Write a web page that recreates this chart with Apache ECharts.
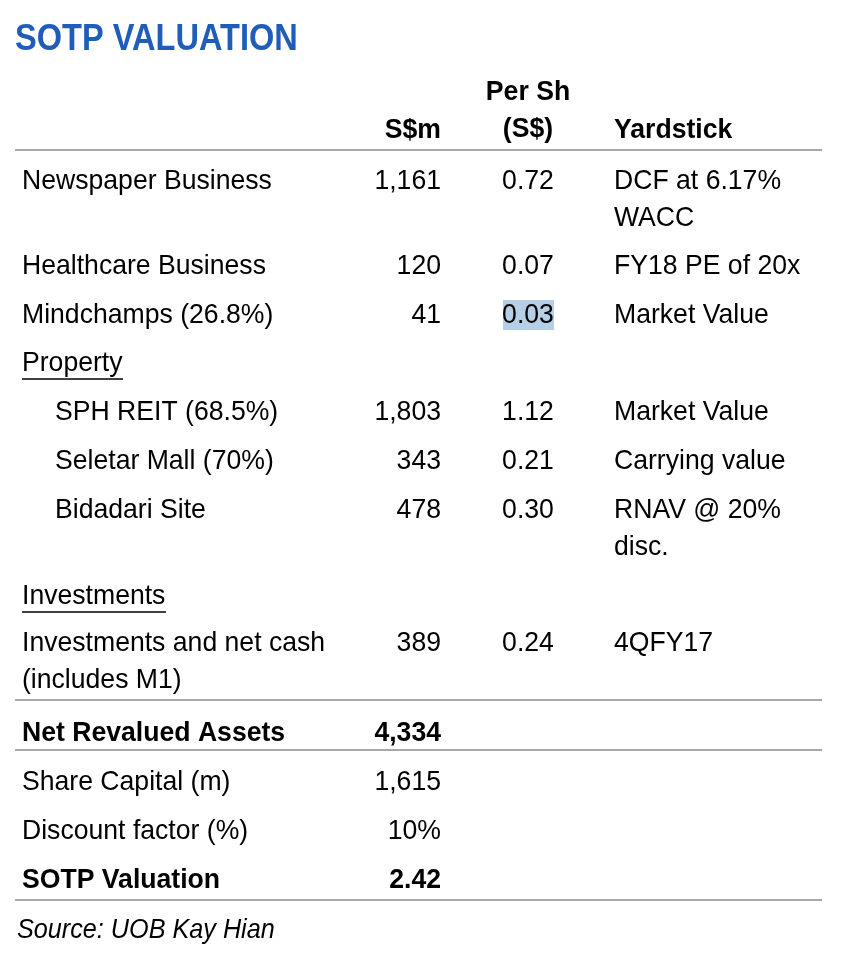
<!DOCTYPE html>
<html><head><meta charset="utf-8">
<script src="https://cdn.jsdelivr.net/npm/echarts@6/dist/echarts.min.js"></script>
<style>html,body{margin:0;padding:0;background:#fff}#c{width:852px;height:960px}</style>
</head><body><div id="c"></div>
<script>
const title = 'SOTP VALUATION';
const headers = ['S$m', 'Per Sh\n(S$)', 'Yardstick'];
const labels = ['Newspaper Business','Healthcare Business','Mindchamps (26.8%)','Property','SPH REIT (68.5%)','Seletar Mall (70%)','Bidadari Site','Investments','Investments and net cash\n(includes M1)','Net Revalued Assets','Share Capital (m)','Discount factor (%)','SOTP Valuation'];
const smValues = ['1,161','120','41','','1,803','343','478','','389','4,334','1,615','10%','2.42'];
const perShare = ['0.72','0.07','0.03','','1.12','0.21','0.30','','0.24','','','',''];
const yardstick = ['DCF at 6.17%\nWACC','FY18 PE of 20x','Market Value','','Market Value','Carrying value','RNAV @ 20%\ndisc.','','4QFY17','','','',''];
const rowY = [181,266,315,363,412,461,510,596,643,733,782,831,880];
const boldRows = [9,12];
const underlineRows = [3,7];
const indentRows = [4,5,6];
const highlight = [2];
const source = 'Source: UOB Kay Hian';
const lines = [150,700,750,900];

const F = '"Liberation Sans Narrow","Arial Narrow","Liberation Sans",sans-serif';
const fs = 28, lh = 37;
const g = [];
function txt(x,y,s,align,opt){
  opt=opt||{};
  g.push({type:'text',x:x,y:y,z:10,scaleX:opt.sx||0.95,originX:0,originY:0,style:{text:s,fill:opt.fill||'#000',font:(opt.italic?'italic ':'')+(opt.bold?'bold ':'')+(opt.size||fs)+'px '+F,textAlign:align,textVerticalAlign:'middle',lineHeight:lh}});
}
txt(15,40,title,'left',{bold:true,size:37,fill:'#1f5db8',sx:0.88});
txt(441,130,headers[0],'right',{bold:true});
txt(528,111,headers[1],'center',{bold:true});
txt(614,130,headers[2],'left',{bold:true});
lines.forEach(y=>g.push({type:'line',shape:{x1:15,y1:y,x2:822,y2:y},style:{stroke:'#a8a8a8',lineWidth:2}}));
labels.forEach((l,i)=>{
  const nl=l.split('\n').length;
  const y=rowY[i]+(nl-1)*lh/2;
  const x=indentRows.includes(i)?55:22;
  const b=boldRows.includes(i);
  txt(x,y,l,'left',{bold:b});
  if(underlineRows.includes(i)){
    const w=i===3?101:144;
    g.push({type:'line',shape:{x1:x,y1:rowY[i]+16,x2:x+w,y2:rowY[i]+16},style:{stroke:'#000',lineWidth:1.5}});
  }
  if(smValues[i]) txt(441,rowY[i],smValues[i],'right',{bold:b});
  if(perShare[i]){
    if(highlight.includes(i)) g.push({type:'rect',shape:{x:503,y:rowY[i]-15,width:51,height:30},style:{fill:'#b4cfe6'}});
    txt(528,rowY[i],perShare[i],'center');
  }
  if(yardstick[i]){
    const n=yardstick[i].split('\n').length;
    txt(614,rowY[i]+(n-1)*lh/2,yardstick[i],'left');
  }
});
txt(17,930,source,'left',{italic:true,sx:0.9});
const chart=echarts.init(document.getElementById('c'));
chart.setOption({animation:false,graphic:{elements:g}});
</script></body></html>
